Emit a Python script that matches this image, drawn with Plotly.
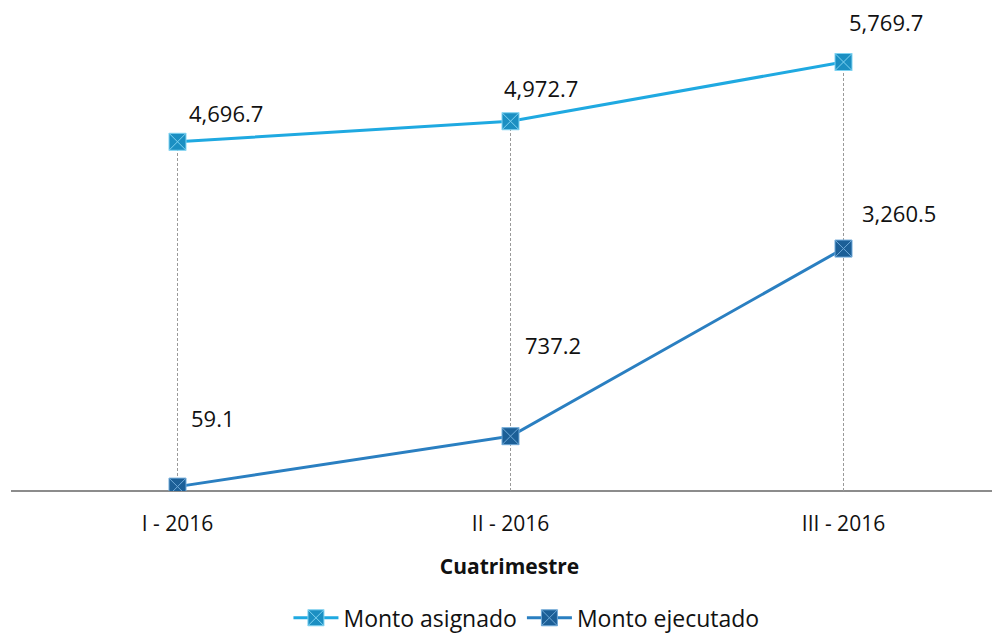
import plotly.graph_objects as go

categories = ["I - 2016", "II - 2016", "III - 2016"]
asignado = [4696.7, 4972.7, 5769.7]
ejecutado = [59.1, 737.2, 3260.5]

# label offsets in px (x, y) relative to each point
off_asig = [(48, 29), (30, 33), (42, 40)]
off_ejec = [(35, 69), (42, 91), (55, 36)]

FONT = "Open Sans"
c_asig = "#1fa9e1"
c_ejec = "#2a7fc1"

fig = go.Figure()

# dashed drop lines from assigned points to axis
dx, dy = [], []
for c, v in zip(categories, asignado):
    dx += [c, c, None]
    dy += [0, v, None]
fig.add_trace(go.Scatter(x=dx, y=dy, mode="lines", showlegend=False, hoverinfo="skip",
                         line=dict(color="#9a9a9a", width=1, dash="3px,2px")))

fig.add_trace(go.Scatter(x=categories, y=asignado, mode="lines+markers", name="Monto asignado",
                         line=dict(color=c_asig, width=3),
                         marker=dict(symbol="square-x", size=17, color="#1b8fc2",
                                     line=dict(color="#7fd3f2", width=1))))
fig.add_trace(go.Scatter(x=categories, y=ejecutado, mode="lines+markers", name="Monto ejecutado",
                         line=dict(color=c_ejec, width=3),
                         marker=dict(symbol="square-x", size=17, color="#1c5f97",
                                     line=dict(color="#6fa9d8", width=1))))

for vals, offs in ((asignado, off_asig), (ejecutado, off_ejec)):
    for c, v, (ox, oy) in zip(categories, vals, offs):
        fig.add_annotation(x=c, y=v, text=f"{v:,.1f}", showarrow=False,
                           xshift=ox, yshift=oy,
                           font=dict(family=FONT, size=22, color="#111111"))

fig.update_layout(
    width=1000, height=634,
    margin=dict(l=3, r=0, t=2, b=150.6, autoexpand=False),
    paper_bgcolor="white", plot_bgcolor="white",
    font=dict(family=FONT, color="#111111"),
    showlegend=True,
    legend=dict(orientation="h", x=0.517, xanchor="center", y=-0.219, yanchor="top",
                font=dict(family=FONT, size=23, color="#111111"),
                itemwidth=45, tracegroupgap=0),
)
fig.update_xaxes(type="category", range=[-0.5, 2.494], showgrid=False,
                 showline=False, zeroline=False, automargin=False,
                 ticks="outside", ticklen=14, tickcolor="rgba(0,0,0,0)",
                 tickfont=dict(family=FONT, size=21, color="#111111"),
                 title=dict(text="<b>Cuatrimestre</b>", standoff=23,
                            font=dict(family=FONT, size=21, color="#111111")))
fig.update_yaxes(range=[0, 6469], showgrid=False, showticklabels=False, automargin=False,
                 zeroline=True, zerolinecolor="#8c8c8c", zerolinewidth=2, showline=False)

fig.write_html("out.html")
